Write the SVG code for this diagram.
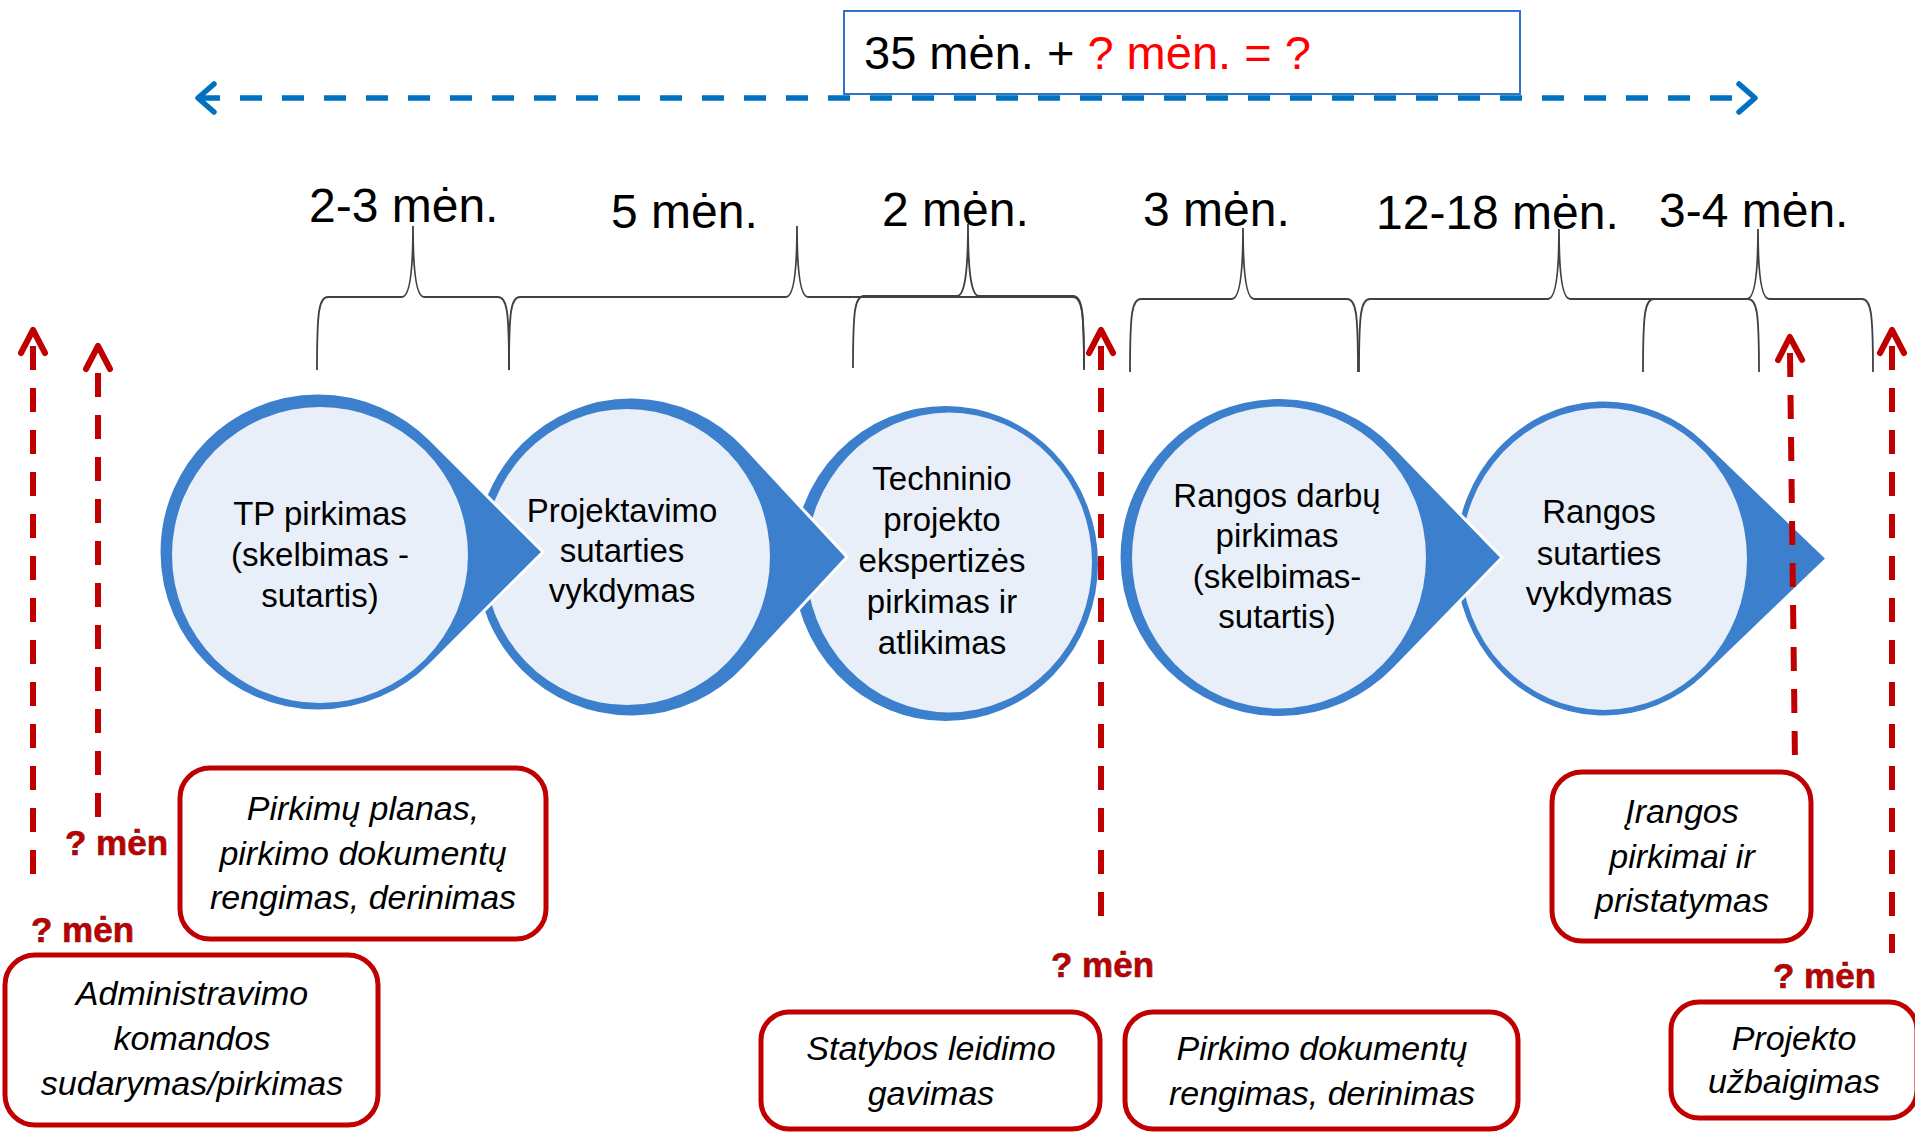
<svg xmlns="http://www.w3.org/2000/svg" width="1915" height="1132" viewBox="0 0 1915 1132">
<defs>
<style>
text{font-family:"Liberation Sans",Arial,sans-serif;}
.dur{font-size:48px;fill:#000;}
.ct{font-size:33px;fill:#000;text-anchor:middle;}
.bt{font-size:34px;font-style:italic;fill:#000;text-anchor:middle;}
.qm{font-size:35px;font-weight:bold;fill:#C00000;stroke:#7a1a1a;stroke-width:0.6;}
.outer{fill:#3C7FCC;stroke:#fff;stroke-width:3;}
.inner{fill:#E9EFF8;}
.brace{fill:none;stroke:#404040;stroke-width:1.8;}
.rbox{fill:#fff;stroke:#C00000;stroke-width:5;}
.rdash{fill:none;stroke:#C00000;stroke-width:6;stroke-dasharray:24 18;marker-start:url(#rh);}
.bdash{fill:none;stroke:#0070C0;stroke-width:5.5;stroke-dasharray:22 20;marker-start:url(#bh);marker-end:url(#bh);}
</style>
<marker id="rh" markerUnits="userSpaceOnUse" viewBox="-30 -30 60 60" markerWidth="60" markerHeight="60" refX="0" refY="0" orient="auto-start-reverse">
<path d="M -7,-12 L 16,0 L -7,12" fill="none" stroke="#C00000" stroke-width="6" stroke-linecap="round" stroke-linejoin="round"/>
</marker>
<marker id="bh" markerUnits="userSpaceOnUse" viewBox="-30 -30 60 60" markerWidth="60" markerHeight="60" refX="0" refY="0" orient="auto-start-reverse">
<path d="M -16,-14 L 0,0 L -16,14" fill="none" stroke="#0070C0" stroke-width="5.5" stroke-linecap="round" stroke-linejoin="round"/>
</marker>
</defs>
<rect width="1915" height="1132" fill="#fff"/>

<g id="total">
<rect x="844" y="11" width="676" height="83" fill="#fff" stroke="#2E75C6" stroke-width="2"/>
<text x="864" y="69" font-size="47" fill="#000">35 mėn. + <tspan fill="#FF0000">? mėn. = ?</tspan></text>
</g>

<g id="durations">
<text class="dur" x="309" y="222">2-3 mėn.</text>
<text class="dur" x="611" y="228">5 mėn.</text>
<text class="dur" x="882" y="226">2 mėn.</text>
<text class="dur" x="1143" y="226">3 mėn.</text>
<text class="dur" x="1376" y="229">12-18 mėn.</text>
<text class="dur" x="1659" y="227">3-4 mėn.</text>
</g>

<g id="braces">
<path class="brace" d="M317,370 C317,310 319,297 328,297 L402,297 C410,297 413,270 413,226 C413,270 416,297 424,297 L498,297 C507,297 509,310 509,370"/>
<path class="brace" d="M509,370 C509,310 511,297 520,297 L786,297 C794,297 797,270 797,226 C797,270 800,297 808,297 L1073,297 C1082,297 1084,310 1084,370"/>
<path class="brace" d="M853,368 C853,309 855,296 864,296 L957,296 C965,296 968,270 968,224 C968,270 971,296 979,296 L1073,296 C1082,296 1084,309 1084,368"/>
<path class="brace" d="M1130,372 C1130,312 1132,299 1141,299 L1232,299 C1240,299 1243,272 1243,228 C1243,272 1246,299 1254,299 L1347,299 C1356,299 1358,312 1358,372"/>
<path class="brace" d="M1359,372 C1359,312 1361,299 1370,299 L1548,299 C1556,299 1559,272 1559,229 C1559,272 1562,299 1570,299 L1748,299 C1757,299 1759,312 1759,372"/>
<path class="brace" d="M1643,372 C1643,312 1645,299 1654,299 L1747,299 C1755,299 1758,272 1758,229 C1758,272 1761,299 1769,299 L1862,299 C1871,299 1873,312 1873,372"/>
</g>

<g id="c3">
<ellipse class="outer" cx="945.5" cy="563.5" rx="154" ry="159"/>
<ellipse class="inner" cx="949" cy="562.5" rx="143" ry="150"/>
<text class="ct" x="942"><tspan x="942" y="490">Techninio</tspan><tspan x="942" y="531">projekto</tspan><tspan x="942" y="572">ekspertizės</tspan><tspan x="942" y="613">pirkimas ir</tspan><tspan x="942" y="654">atlikimas</tspan></text>
</g>
<g id="c2">
<path class="outer" d="M847,557 L745.1,447.1 A157 160 0 1 0 745.1,666.9 Z"/>
<ellipse class="inner" cx="627" cy="557" rx="143" ry="148"/>
<text class="ct" x="622"><tspan x="622" y="522">Projektavimo</tspan><tspan x="622" y="562">sutarties</tspan><tspan x="622" y="602">vykdymas</tspan></text>
</g>
<g id="c1">
<path class="outer" d="M543,552 L430.4,439.5 A159 159 0 1 0 430.4,664.5 Z"/>
<ellipse class="inner" cx="320" cy="555" rx="148" ry="148"/>
<text class="ct" x="320"><tspan x="320" y="525">TP pirkimas</tspan><tspan x="320" y="566">(skelbimas -</tspan><tspan x="320" y="607">sutartis)</tspan></text>
</g>
<g id="c5">
<path class="outer" d="M1827,558.5 L1704.9,441.2 A150 158.5 0 1 0 1704.9,675.8 Z"/>
<ellipse class="inner" cx="1604" cy="559" rx="143" ry="151"/>
<text class="ct" x="1599"><tspan x="1599" y="523">Rangos</tspan><tspan x="1599" y="565">sutarties</tspan><tspan x="1599" y="605">vykdymas</tspan></text>
</g>
<g id="c4">
<path class="outer" d="M1502,557.5 L1393.8,446 A160 160 0 1 0 1393.8,669 Z"/>
<ellipse class="inner" cx="1279" cy="557.5" rx="147" ry="151"/>
<text class="ct" x="1277"><tspan x="1277" y="507">Rangos darbų</tspan><tspan x="1277" y="547">pirkimas</tspan><tspan x="1277" y="588">(skelbimas-</tspan><tspan x="1277" y="628">sutartis)</tspan></text>
</g>

<g id="connectors">
<path class="bdash" d="M198,98 L1755,98"/>
<path class="rdash" d="M33,346 L33,882"/>
<path class="rdash" d="M98,362 L98,822" stroke-dashoffset="31"/>
<path class="rdash" d="M1101,346 L1101,931"/>
<path class="rdash" d="M1790,353 L1795,763"/>
<path class="rdash" d="M1892,346 L1892,953"/>
</g>

<g id="labels">
<text class="qm" x="65" y="855">? mėn</text>
<text class="qm" x="31" y="942">? mėn</text>
<text class="qm" x="1051" y="977">? mėn</text>
<text class="qm" x="1773" y="988">? mėn</text>
</g>

<g id="boxA">
<rect class="rbox" x="180" y="768" width="366" height="171" rx="30"/>
<text class="bt"><tspan x="363" y="820">Pirkimų planas,</tspan><tspan x="363" y="865">pirkimo dokumentų</tspan><tspan x="363" y="909">rengimas, derinimas</tspan></text>
</g>
<g id="boxB">
<rect class="rbox" x="5" y="955" width="373" height="170" rx="30"/>
<text class="bt"><tspan x="192" y="1005">Administravimo</tspan><tspan x="192" y="1050">komandos</tspan><tspan x="192" y="1095">sudarymas/pirkimas</tspan></text>
</g>
<g id="boxC">
<rect class="rbox" x="761" y="1012" width="339" height="117" rx="28"/>
<text class="bt"><tspan x="931" y="1060">Statybos leidimo</tspan><tspan x="931" y="1105">gavimas</tspan></text>
</g>
<g id="boxD">
<rect class="rbox" x="1125" y="1012" width="393" height="117" rx="28"/>
<text class="bt"><tspan x="1322" y="1060">Pirkimo dokumentų</tspan><tspan x="1322" y="1105">rengimas, derinimas</tspan></text>
</g>
<g id="boxE">
<rect class="rbox" x="1671" y="1002" width="246" height="116" rx="28"/>
<text class="bt"><tspan x="1794" y="1050">Projekto</tspan><tspan x="1794" y="1093">užbaigimas</tspan></text>
</g>
<g id="boxF">
<rect class="rbox" x="1552" y="772" width="259" height="169" rx="30"/>
<text class="bt"><tspan x="1682" y="823">Įrangos</tspan><tspan x="1682" y="868">pirkimai ir</tspan><tspan x="1682" y="912">pristatymas</tspan></text>
</g>
</svg>
